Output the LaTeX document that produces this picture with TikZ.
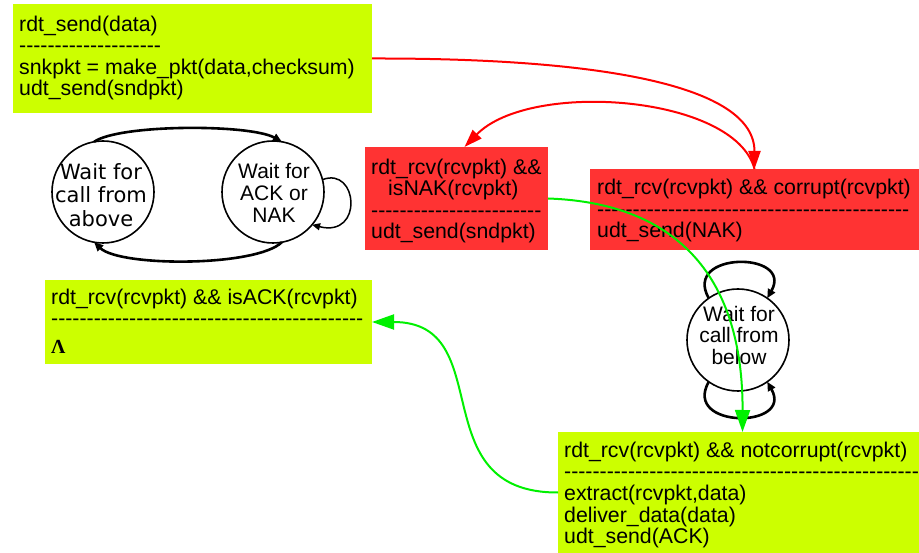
\documentclass[tikz,border=0pt]{standalone}
\usepackage{fontspec}
\setmainfont{Liberation Sans}
\newfontfamily\vera{DejaVu Sans}
\newfontfamily\greekserif{Liberation Serif}
\usetikzlibrary{arrows.meta}

% a row of separate hyphens (no en/em-dash ligatures)
\ExplSyntaxOn
\NewDocumentCommand\dashrow{m}{\prg_replicate:nn{#1}{\hbox{-}}}
\ExplSyntaxOff
\newcommand\topstrut{\rule{0pt}{18pt}}

\definecolor{limefill}{RGB}{204,255,0}
\definecolor{redfill}{RGB}{255,51,51}
\definecolor{redline}{RGB}{255,0,0}
\definecolor{greenline}{RGB}{0,240,0}

\tikzset{
  panel/.style={anchor=north west, inner sep=0pt, outer sep=0pt, draw=none},
  limepanel/.style={panel, fill=limefill},
  redpanel/.style={panel, fill=redfill},
  paneltext/.style={anchor=north west, inner sep=0pt, align=left,
    font=\fontsize{21.3}{21.6}\selectfont},
  state/.style={circle, draw=black, line width=1.6pt, minimum size=102pt,
    inner sep=0pt, outer sep=0pt},
  statetext/.style={anchor=north, inner sep=0pt, align=center},
  trans/.style={draw=black, line width=2.6pt,
    -{Triangle[length=9pt,width=8pt]}},
  thintrans/.style={draw=black, line width=1.5pt,
    -{Triangle[length=8pt,width=7pt]}},
  redarrow/.style={draw=redline, line width=2pt,
    -{Triangle[length=18pt,width=12pt]}},
  greenarrow/.style={draw=greenline, line width=2pt,
    -{Triangle[length=22pt,width=15pt]}},
}

\begin{document}
\begin{tikzpicture}[x=1pt, y=-1pt]
\useasboundingbox (0,0) rectangle (919,553);

% ---- action panels ----
\node[limepanel, minimum width=359pt, minimum height=109pt] (sendbox) at (13,4) {};
\node[paneltext] (sendtext) at (19,13)
  {\topstrut rdt\_send(data)\\ \dashrow{20}\\ snkpkt = make\_pkt(data,checksum)\\ udt\_send(sndpkt)};

\node[redpanel, minimum width=183pt, minimum height=103pt] (nakbox) at (365,147) {};
\node[paneltext] (naktext) at (371,156)
  {\topstrut rdt\_rcv(rcvpkt) \&\&\\ \hspace*{17pt}isNAK(rcvpkt)\\ \dashrow{24}\\ udt\_send(sndpkt)};

\node[redpanel, minimum width=329pt, minimum height=81pt] (corruptbox) at (590,169) {};
\node[paneltext] (corrupttext) at (597,176.5)
  {\topstrut rdt\_rcv(rcvpkt) \&\& corrupt(rcvpkt)\\ \dashrow{44}\\ udt\_send(NAK)};

\node[limepanel, minimum width=327pt, minimum height=84pt] (ackbox) at (45,280) {};
\node[paneltext] (acktext) at (51,286)
  {\topstrut rdt\_rcv(rcvpkt) \&\& isACK(rcvpkt)\\ \dashrow{44}\\[6pt] {\greekserif\bfseries\fontsize{20}{20}\selectfont Λ}};

\node[limepanel, minimum width=361pt, minimum height=121pt] (okbox) at (558,432) {};
\node[paneltext] (oktext) at (564,439)
  {\topstrut rdt\_rcv(rcvpkt) \&\& notcorrupt(rcvpkt)\\ \dashrow{50}\\ extract(rcvpkt,data)\\ deliver\_data(data)\\ udt\_send(ACK)};

% ---- states ----
\node[state] (c1) at (103,192) {};
\node[statetext, font=\vera\fontsize{21}{23.5}\selectfont] (c1text) at (101,161)
  {\topstrut Wait for\\ call from\\ above};

\node[state] (c2) at (273,192) {};
\node[statetext, font=\fontsize{21}{22}\selectfont] (c2text) at (274,160)
  {\topstrut Wait for\\ ACK or\\ NAK};

\node[state] (c3) at (738,340) {};
\node[statetext, font=\fontsize{21}{21.5}\selectfont] (c3text) at (739,303)
  {\topstrut Wait for\\ call from\\ below};

% ---- state transitions ----
\draw[trans] (c1.100) .. controls (120,124) and (250,124) .. (c2.80);
\draw[trans] (c2.-80) .. controls (256,267) and (120,267) .. (c1.-100);
\draw[thintrans] (c2.14) .. controls (358,166) and (364,238) .. (c2.-40);
\draw[trans] (c3.125) .. controls (682,251) and (794,251) .. (c3.55);
\draw[trans] (c3.-125) .. controls (682,429) and (794,429) .. (c3.-55);

% ---- links between panels ----
\draw[redarrow] (sendbox.east) .. controls (600,58) and (754.5,85) .. (corruptbox.north);
\draw[redarrow] (corruptbox.north) .. controls (735,95) and (530,80) .. ([xshift=8pt]nakbox.north);
\draw[greenarrow] (nakbox.east) .. controls (680,203) and (743,280) .. ([xshift=4pt]okbox.north);
\draw[greenarrow] (okbox.west) .. controls (420,493) and (500,322) .. (ackbox.east);
\end{tikzpicture}
\end{document}
